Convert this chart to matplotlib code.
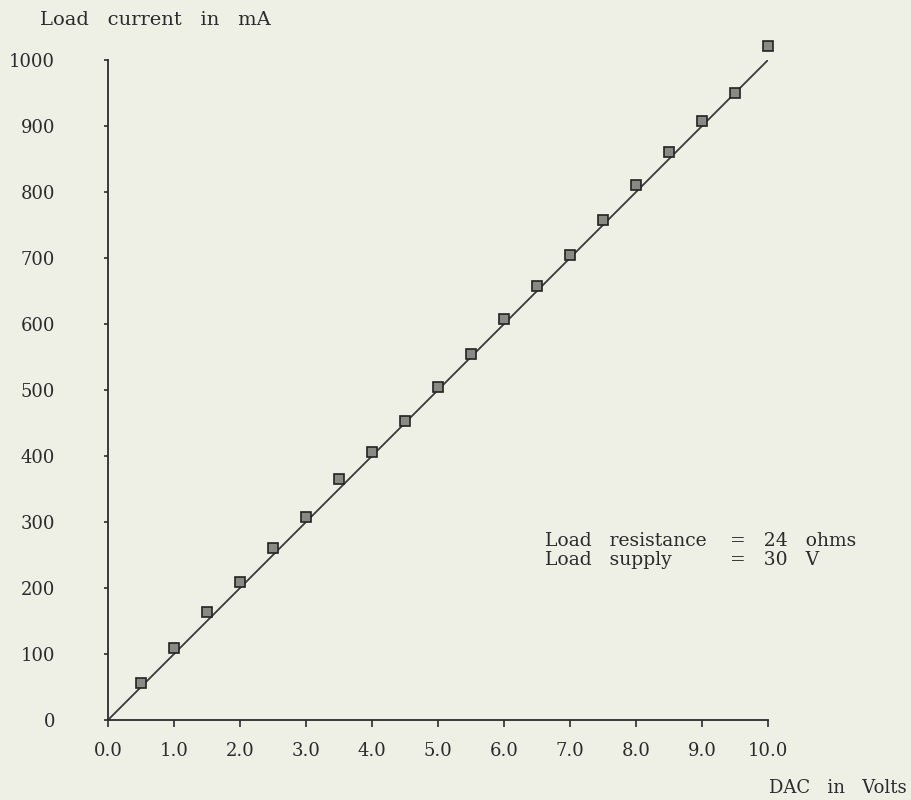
import matplotlib.pyplot as plt

# measured points (DAC volts vs load current in mA)
dac_volts = [0.5, 1.0, 1.5, 2.0, 2.5, 3.0, 3.5, 4.0, 4.5, 5.0,
             5.5, 6.0, 6.5, 7.0, 7.5, 8.0, 8.5, 9.0, 9.5, 10.0]
load_ma = [56, 109, 164, 209, 261, 308, 365, 406, 453, 505,
           555, 608, 658, 705, 758, 811, 861, 908, 950, 1021]

# ideal straight line
ideal_x = [0.0, 10.0]
ideal_y = [0, 1000]

x_ticks = [0, 1, 2, 3, 4, 5, 6, 7, 8, 9, 10]
x_tick_labels = ['0.0', '1.0', '2.0', '3.0', '4.0', '5.0',
                 '6.0', '7.0', '8.0', '9.0', '10.0']
y_ticks = [0, 100, 200, 300, 400, 500, 600, 700, 800, 900, 1000]
y_tick_labels = [str(v) for v in y_ticks]

bg = '#eef0e6'
ink = '#2b2b2b'
font = 'DejaVu Serif'

fig = plt.figure(figsize=(9.12, 8.0), dpi=100, facecolor=bg)
ax = fig.add_axes([0.1184, 0.1, 0.7237, 0.825], facecolor=bg)

ax.plot(ideal_x, ideal_y, color='#3a3a3a', linewidth=1.3)
ax.plot(dac_volts, load_ma, linestyle='none', marker='s', markersize=6.5,
        markerfacecolor='#8a8a84', markeredgecolor='#222222',
        markeredgewidth=1.2, clip_on=False, zorder=3)

ax.set_xlim(0, 10)
ax.set_ylim(0, 1000)

for side in ['top', 'right']:
    ax.spines[side].set_visible(False)
for side in ['left', 'bottom']:
    ax.spines[side].set_color(ink)
    ax.spines[side].set_linewidth(1.3)

ax.set_xticks(x_ticks)
ax.set_xticklabels(x_tick_labels, family=font, fontsize=13, color=ink)
ax.set_yticks(y_ticks)
ax.set_yticklabels(y_tick_labels, family=font, fontsize=13, color=ink)
ax.tick_params(axis='x', direction='out', length=5, width=1.2, color=ink, pad=11)
ax.tick_params(axis='y', direction='out', length=3, width=1.2, color=ink, pad=35)

fig.text(40 / 912, 1 - 20 / 800, 'Load   current   in   mA', family=font,
         fontsize=14, color=ink, va='center', ha='left')
fig.text(769 / 912, 1 - 788 / 800, 'DAC   in   Volts', family=font,
         fontsize=13, color=ink, va='center', ha='left')

# annotation block, "=" columns aligned
ax.text(6.62, 271, 'Load   resistance', family=font, fontsize=13.5,
        color=ink, va='center', ha='left')
ax.text(9.42, 271, '=   24   ohms', family=font, fontsize=13.5,
        color=ink, va='center', ha='left', clip_on=False)
ax.text(6.62, 242, 'Load   supply', family=font, fontsize=13.5,
        color=ink, va='center', ha='left')
ax.text(9.42, 242, '=   30   V', family=font, fontsize=13.5,
        color=ink, va='center', ha='left', clip_on=False)

fig.savefig('out.png', dpi=100, facecolor=bg)
